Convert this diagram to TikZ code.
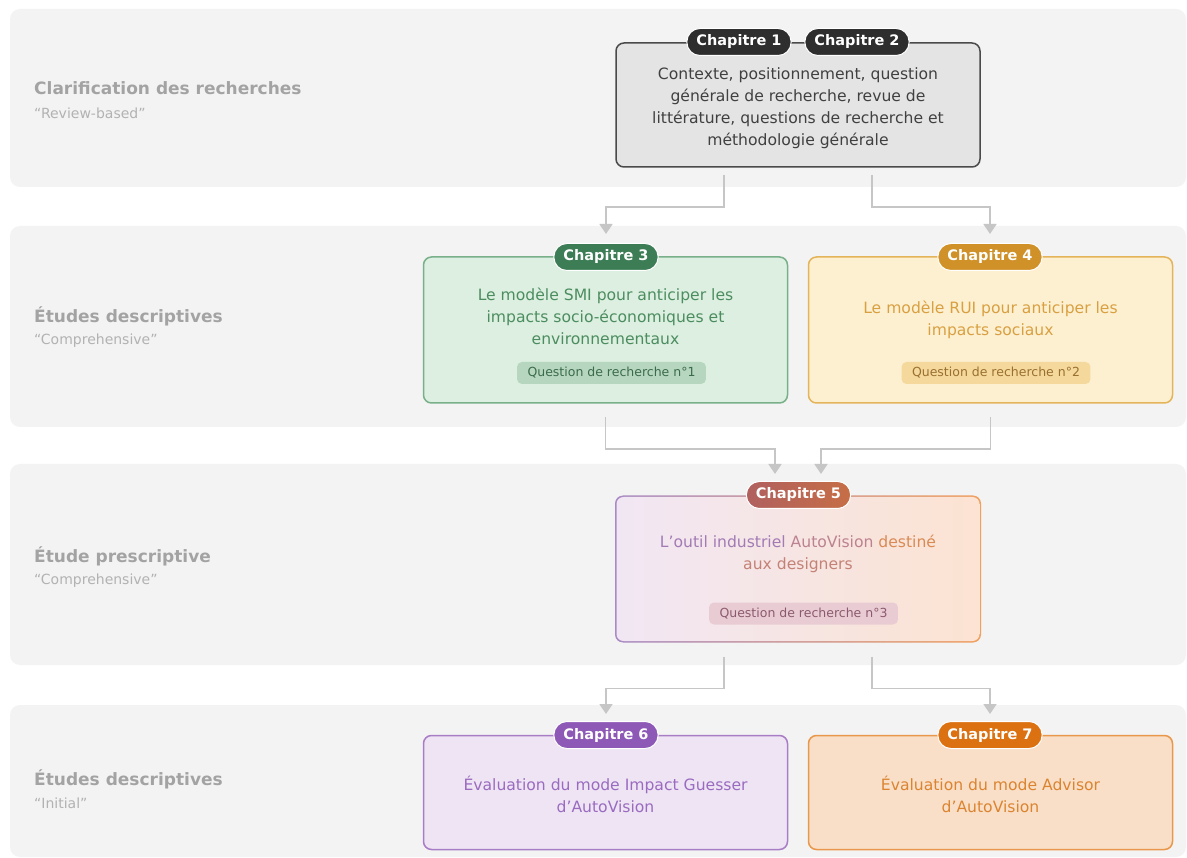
\documentclass[tikz,border=0pt]{standalone}
\usepackage{fontspec}
\setmainfont{DejaVu Sans}
\usetikzlibrary{arrows.meta,calc}
\definecolor{bandfill}{HTML}{F3F3F3}
\definecolor{titlegray}{HTML}{A3A3A3}
\definecolor{subgray}{HTML}{B2B2B2}
\definecolor{conngray}{HTML}{C6C6C6}
\definecolor{c1fill}{HTML}{E4E4E4}
\definecolor{c1border}{HTML}{4A4A4A}
\definecolor{c1text}{HTML}{404040}
\definecolor{c1pill}{HTML}{2E2E2E}
\definecolor{c3fill}{HTML}{DCEFE0}
\definecolor{c3border}{HTML}{79B08A}
\definecolor{c3text}{HTML}{4C8D60}
\definecolor{c3pill}{HTML}{3D7D55}
\definecolor{c3sub}{HTML}{B6D6BF}
\definecolor{c3subtext}{HTML}{3B6B4B}
\definecolor{c4fill}{HTML}{FDF0D0}
\definecolor{c4border}{HTML}{E4B45A}
\definecolor{c4text}{HTML}{D9A042}
\definecolor{c4pill}{HTML}{CF9128}
\definecolor{c4sub}{HTML}{F4D89C}
\definecolor{c4subtext}{HTML}{9A7030}
\definecolor{c5fillL}{HTML}{F1E7F4}
\definecolor{c5fillR}{HTML}{FCE3D2}
\definecolor{c5bordL}{HTML}{A98BC4}
\definecolor{c5bordR}{HTML}{F0A060}
\definecolor{c5pillL}{HTML}{B0605F}
\definecolor{c5pillR}{HTML}{C66E46}
\definecolor{c5a}{HTML}{A27BB5}
\definecolor{c5b}{HTML}{BC8290}
\definecolor{c5c}{HTML}{D98A55}
\definecolor{c5d}{HTML}{C48276}
\definecolor{c5sub}{HTML}{E9CCD3}
\definecolor{c5subtext}{HTML}{8B5A6E}
\definecolor{c6fill}{HTML}{EEE4F3}
\definecolor{c6border}{HTML}{A97DC5}
\definecolor{c6text}{HTML}{9A6BC0}
\definecolor{c6pill}{HTML}{8E59B6}
\definecolor{c7fill}{HTML}{F9DFC8}
\definecolor{c7border}{HTML}{E9974B}
\definecolor{c7text}{HTML}{DB8430}
\definecolor{c7pill}{HTML}{DC7112}
\begin{document}
\begin{tikzpicture}[x=1pt,y=-1pt,
  band/.style={fill=bandfill, rounded corners=10pt},
  bandtitle/.style={anchor=west, inner sep=0pt, text=titlegray, font=\fontsize{17}{20}\selectfont\bfseries},
  bandsub/.style={anchor=west, inner sep=0pt, text=subgray, font=\fontsize{14}{17}\selectfont},
  boxshape/.style={rectangle, rounded corners=8pt, line width=1.5pt, minimum width=364pt, inner sep=0pt, outer sep=0pt},
  pill/.style={rectangle, rounded corners=13pt, minimum height=27pt, inner xsep=9.5pt, inner ysep=0pt, text=white, draw=white, line width=1pt, font=\fontsize{14.5}{17}\selectfont\bfseries},
  maintext/.style={align=center, inner sep=0pt, font=\fontsize{15.6}{22}\selectfont},
  subpill/.style={rectangle, rounded corners=5pt, minimum height=22pt, inner xsep=10.5pt, inner ysep=0pt, font=\fontsize{12.5}{15}\selectfont},
  conn/.style={draw=conngray, line width=1.6pt, -{Triangle[width=13pt,length=10pt]}}
]
\useasboundingbox (0,0) rectangle (1187,858);
\fill[white] (0,0) rectangle (1187,858);
% bands
\fill[band] (10,9) rectangle (1186,187);
\fill[band] (10,226) rectangle (1186,427);
\fill[band] (10,464) rectangle (1186,665);
\fill[band] (10,705) rectangle (1186,857);
% band labels
\node[bandtitle] (t1) at (34,88) {Clarification des recherches};
\node[bandsub] (s1) at (34,113) {“Review-based”};
\node[bandtitle] (t2) at (34,316) {Études descriptives};
\node[bandsub] (s2) at (34,341) {“Comprehensive”};
\node[bandtitle] (t3) at (34,556) {Étude prescriptive};
\node[bandsub] (s3) at (34,581) {“Comprehensive”};
\node[bandtitle] (t4) at (34,779) {Études descriptives};
\node[bandsub] (s4) at (34,803) {“Initial”};
% box 1
\node[boxshape, fill=c1fill, draw=c1border, minimum height=124pt] (b1) at (798,105) {};
\node[maintext, text=c1text] (x1) at (798,108) {Contexte, positionnement, question\\générale de recherche, revue de\\littérature, questions de recherche et\\méthodologie générale};
\node[pill, fill=c1pill] (p1) at (739,42) {Chapitre 1};
\node[pill, fill=c1pill] (p2) at (857,42) {Chapitre 2};
% box 3
\node[boxshape, fill=c3fill, draw=c3border, minimum height=146pt] (b3) at (605.5,330) {};
\node[maintext, text=c3text] (x3) at (605.5,316) {Le modèle SMI pour anticiper les\\impacts socio-économiques et\\environnementaux};
\node[subpill, fill=c3sub, text=c3subtext] (q1) at (611.5,373) {Question de recherche n°1};
\node[pill, fill=c3pill] (p3) at (606,257) {Chapitre 3};
% box 4
\node[boxshape, fill=c4fill, draw=c4border, minimum height=146pt] (b4) at (990.5,330) {};
\node[maintext, text=c4text] (x4) at (990.5,320) {Le modèle RUI pour anticiper les\\impacts sociaux};
\node[subpill, fill=c4sub, text=c4subtext] (q2) at (996,373) {Question de recherche n°2};
\node[pill, fill=c4pill] (p4) at (990,257) {Chapitre 4};
% box 5
\node[rectangle, rounded corners=8pt, inner sep=0pt, outer sep=0pt, minimum width=366pt, minimum height=147pt, left color=c5bordL, right color=c5bordR] (b5o) at (798,569) {};
\node[rectangle, rounded corners=7pt, inner sep=0pt, outer sep=0pt, minimum width=363pt, minimum height=144pt, left color=c5fillL, right color=c5fillR] (b5) at (798,569) {};
\node[maintext] (x5) at (798,553.5) {{\color{c5a}L'outil industriel} {\color{c5b}AutoVision} {\color{c5c}destiné}\\{\color{c5d}aux designers}};
\node[subpill, fill=c5sub, text=c5subtext] (q3) at (803.5,613.5) {Question de recherche n°3};
\node[pill, left color=c5pillL, right color=c5pillR, draw=white] (p5) at (798.5,495) {Chapitre 5};
% box 6
\node[boxshape, fill=c6fill, draw=c6border, minimum height=114pt] (b6) at (605.5,792.5) {};
\node[maintext, text=c6text] (x6) at (605.5,794) {Évaluation du mode Impact Guesser\\d’AutoVision};
\node[pill, fill=c6pill] (p6) at (606,735) {Chapitre 6};
% box 7
\node[boxshape, fill=c7fill, draw=c7border, minimum height=114pt] (b7) at (990.5,792.5) {};
\node[maintext, text=c7text] (x7) at (990.5,794) {Évaluation du mode Advisor\\d’AutoVision};
\node[pill, fill=c7pill] (p7) at (990,735) {Chapitre 7};
% connectors
\draw[conn] ([xshift=-74pt,yshift=-8pt]b1.south) -- ++(0,32) -| ([yshift=9pt]p3.north);
\draw[conn] ([xshift=74pt,yshift=-8pt]b1.south) -- ++(0,32) -| ([yshift=9pt]p4.north);
\draw[conn] ([yshift=-14pt]b3.south) -- ++(0,32) -| ([xshift=-23.5pt,yshift=7pt]p5.north);
\draw[conn] ([yshift=-14pt]b4.south) -- ++(0,32) -| ([xshift=22.5pt,yshift=7pt]p5.north);
\draw[conn] ([xshift=-74pt,yshift=-14pt]b5o.south) -- ++(0,32) -| ([yshift=7pt]p6.north);
\draw[conn] ([xshift=74pt,yshift=-14pt]b5o.south) -- ++(0,32) -| ([yshift=7pt]p7.north);
\end{tikzpicture}
\end{document}
